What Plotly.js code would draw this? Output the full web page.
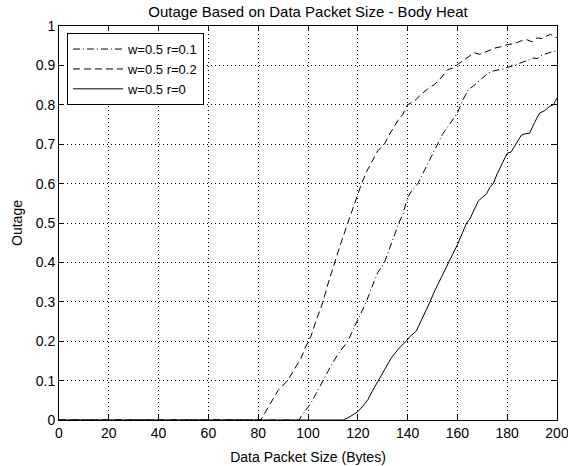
<!DOCTYPE html>
<html>
<head>
<meta charset="utf-8">
<script src="https://cdn.plot.ly/plotly-3.0.1.min.js"></script>
<style>html,body{margin:0;padding:0;background:#fff;}#chart{width:568px;height:466px;}</style>
</head>
<body>
<div id="chart"></div>
<script>
// Series names
const seriesNames = ["w=0.5 r=0.1", "w=0.5 r=0.2", "w=0.5 r=0"];

// Tick values
const xTicks = [0, 20, 40, 60, 80, 100, 120, 140, 160, 180, 200];
const yTicks = [0, 0.1, 0.2, 0.3, 0.4, 0.5, 0.6, 0.7, 0.8, 0.9, 1];
const yTickText = ["0", "0.1", "0.2", "0.3", "0.4", "0.5", "0.6", "0.7", "0.8", "0.9", "1"];

// w=0.5 r=0.1 (dash-dot)
const xR01 = [0, 96.5, 97.2, 99, 101.2, 103.5, 105.9, 109, 111.9, 114, 116, 118, 120, 123.3, 125.5, 128, 130.7, 132.8, 134.8, 136.5, 138.1, 140.1, 142, 144.1, 146.8, 149.5, 152.2, 154, 156.2, 158, 160, 162, 164.4, 166.5, 169, 172.4, 175, 178, 180, 183, 186, 188, 190.4, 192, 194.4, 196, 198.4, 200];
const yR01 = [0, 0, 0.0085, 0.025, 0.043, 0.07, 0.1, 0.135, 0.166, 0.185, 0.2, 0.228, 0.255, 0.298, 0.335, 0.374, 0.4, 0.437, 0.472, 0.5, 0.523, 0.566, 0.585, 0.6, 0.634, 0.67, 0.702, 0.725, 0.745, 0.762, 0.779, 0.81, 0.838, 0.848, 0.862, 0.881, 0.887, 0.89, 0.895, 0.9, 0.908, 0.912, 0.919, 0.917, 0.928, 0.93, 0.936, 0.935];

// w=0.5 r=0.2 (dashed)
const xR02 = [0, 81, 85, 88, 91.8, 95, 97.2, 99, 100.5, 101.2, 103.2, 105.9, 108, 110.6, 113, 116, 118.5, 121.3, 123.5, 126, 128, 130.7, 133, 136.1, 138, 140, 142.8, 145.4, 148, 150.7, 153, 156, 158, 160, 163, 166.7, 169, 172, 175, 178, 180, 183, 185.4, 188, 190, 192, 194, 196, 197.4, 199, 200];
const yR02 = [0, 0, 0.043, 0.075, 0.1, 0.135, 0.157, 0.185, 0.205, 0.213, 0.251, 0.298, 0.345, 0.4, 0.445, 0.5, 0.548, 0.596, 0.63, 0.66, 0.683, 0.7, 0.728, 0.76, 0.775, 0.8, 0.81, 0.826, 0.84, 0.851, 0.865, 0.889, 0.893, 0.902, 0.915, 0.932, 0.928, 0.936, 0.944, 0.948, 0.953, 0.955, 0.962, 0.965, 0.96, 0.97, 0.968, 0.975, 0.979, 0.972, 0.97];

// w=0.5 r=0 (solid)
const xR0 = [0, 114, 116, 118, 120, 122, 124, 126, 128, 130, 132, 133.4, 135, 137, 139.4, 141, 143.5, 145, 146.8, 149, 150.9, 153, 155, 157.6, 160, 162, 163.7, 165, 166.4, 168.4, 170, 171.7, 173, 174.4, 176, 178, 180, 181.5, 183, 185.7, 187, 189, 191, 193, 195, 197, 198.5, 200];
const yR0 = [0, 0, 0.005, 0.012, 0.021, 0.035, 0.051, 0.075, 0.098, 0.12, 0.143, 0.157, 0.17, 0.185, 0.2, 0.212, 0.226, 0.245, 0.268, 0.3, 0.328, 0.355, 0.38, 0.413, 0.445, 0.475, 0.5, 0.51, 0.53, 0.556, 0.565, 0.574, 0.59, 0.6, 0.625, 0.65, 0.677, 0.68, 0.695, 0.723, 0.726, 0.728, 0.755, 0.779, 0.785, 0.796, 0.8, 0.817];

const FONT = "Liberation Sans, Arial, Helvetica, sans-serif";

const traces = [
  {x: xR01, y: yR01, name: seriesNames[0], mode: "lines", line: {color: "#000", width: 1, dash: "7px,3px,1px,3px"}},
  {x: xR02, y: yR02, name: seriesNames[1], mode: "lines", line: {color: "#000", width: 1, dash: "7px,4px"}},
  {x: xR0, y: yR0, name: seriesNames[2], mode: "lines", line: {color: "#000", width: 1}}
];

const axisCommon = {
  showline: true, mirror: "ticks", linecolor: "#000", linewidth: 1,
  ticks: "inside", ticklen: 5, tickcolor: "#000", tickwidth: 1,
  showgrid: true, gridcolor: "#000", gridwidth: 1, griddash: "1px,3px",
  zeroline: false, tickfont: {family: FONT, size: 14, color: "#000"},
  automargin: false, tickmode: "array", ticklabeloverflow: "allow"
};

const layout = {
  width: 568, height: 466,
  margin: {l: 59, r: 11, t: 26, b: 46},
  paper_bgcolor: "#fff", plot_bgcolor: "#fff",
  font: {family: FONT, size: 14, color: "#000"},
  title: {text: "Outage Based on Data Packet Size - Body Heat", font: {family: FONT, size: 15, color: "#000"},
          x: 0.5, xref: "paper", y: 1 - 12/466, yref: "container", yanchor: "middle"},
  xaxis: Object.assign({}, axisCommon, {range: [0, 200], tickvals: xTicks, ticktext: xTicks.map(String),
          title: {text: "Data Packet Size (Bytes)", font: {family: FONT, size: 14, color: "#000"}, standoff: 12}}),
  yaxis: Object.assign({}, axisCommon, {range: [0, 1], tickvals: yTicks, ticktext: yTickText,
          title: {text: "Outage", font: {family: FONT, size: 14, color: "#000"}, standoff: 9}}),
  showlegend: true,
  legend: {x: 0.016, y: 0.982, xanchor: "left", yanchor: "top", bgcolor: "#fff", bordercolor: "#000", borderwidth: 1,
           font: {family: FONT, size: 13, color: "#000"}, traceorder: "normal", itemwidth: 50, tracegroupgap: 0}
};

Plotly.newPlot("chart", traces, layout, {displayModeBar: false, staticPlot: true});
</script>
</body>
</html>
